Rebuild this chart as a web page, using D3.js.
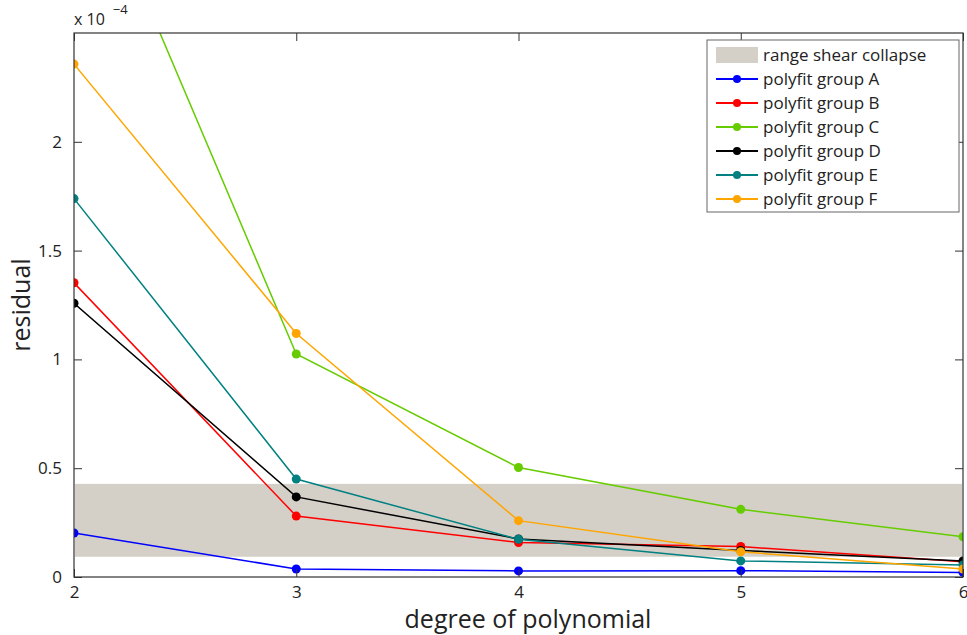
<!DOCTYPE html>
<html>
<head>
<meta charset="utf-8">
<script src="https://cdn.jsdelivr.net/npm/d3@7"></script>
<style>
  html, body { margin: 0; padding: 0; background: #fff; }
  svg { display: block; font-family: "Open Sans", "Noto Sans", sans-serif; }
</style>
</head>
<body>
<svg id="chart" width="967" height="635"></svg>
<script>
// Polynomial degree on x, fit residual (units of 1e-4) on y
const degrees = [2, 3, 4, 5, 6];
const seriesNames = ["polyfit group A", "polyfit group B", "polyfit group C",
                     "polyfit group D", "polyfit group E", "polyfit group F"];
const seriesColors = ["#0000ff", "#ff0000", "#66cc00", "#000000", "#008080", "#ffa500"];
const groupA = [0.202, 0.037, 0.028, 0.029, 0.021];
const groupB = [1.352, 0.280, 0.158, 0.140, 0.070];
const groupC = [3.430, 1.025, 0.503, 0.311, 0.185];
const groupD = [1.258, 0.368, 0.175, 0.122, 0.074];
const groupE = [1.739, 0.450, 0.173, 0.074, 0.055];
const groupF = [2.357, 1.119, 0.259, 0.116, 0.037];
const seriesValues = [groupA, groupB, groupC, groupD, groupE, groupF];
const bandRange = [0.093, 0.428];          // shear collapse range
const bandLabel = "range shear collapse";
const yTicks = [0, 0.5, 1, 1.5, 2];
const yMax = 2.5;

const svg = d3.select("#chart");
const pLeft = 74, pRight = 963, pTop = 33, pBottom = 577;

const x = d3.scaleLinear().domain([2, 6]).range([pLeft, pRight]);
const y = d3.scaleLinear().domain([0, yMax]).range([pBottom, pTop]);

svg.append("defs").append("clipPath").attr("id", "plotclip")
  .append("rect").attr("x", pLeft).attr("y", pTop)
  .attr("width", pRight - pLeft).attr("height", pBottom - pTop);

const plot = svg.append("g").attr("clip-path", "url(#plotclip)");

// shaded band
plot.append("rect")
  .attr("x", x(2) + 1).attr("width", x(6) - x(2) - 2)
  .attr("y", y(bandRange[1])).attr("height", y(bandRange[0]) - y(bandRange[1]))
  .attr("fill", "#d4d0c8");

const line = d3.line().x((d, i) => x(degrees[i])).y(d => y(d));

seriesValues.forEach((vals, k) => {
  const g = plot.append("g");
  g.append("path").datum(vals)
    .attr("d", line).attr("fill", "none")
    .attr("stroke", seriesColors[k]).attr("stroke-width", 1.5);
  g.selectAll("circle").data(vals).join("circle")
    .attr("cx", (d, i) => x(degrees[i])).attr("cy", d => y(d))
    .attr("r", 4.5).attr("fill", seriesColors[k]);
});

// axes (ticks point inward, mirrored on top and right)
const axisColor = "#333";
const tickLen = 8;
const styleAxis = g => {
  g.select(".domain").remove();
  g.selectAll(".tick line").attr("stroke", axisColor);
  g.selectAll(".tick text").attr("fill", "#222").style("font-size", "17px")
    .style("font-family", "'Open Sans', sans-serif");
};
svg.append("g").attr("transform", `translate(0,${pBottom})`)
  .call(d3.axisBottom(x).tickValues(degrees).tickFormat(d3.format("d"))
        .tickSizeInner(-tickLen).tickSizeOuter(0).tickPadding(9))
  .call(styleAxis);
svg.append("g").attr("transform", `translate(${pLeft},0)`)
  .call(d3.axisLeft(y).tickValues(yTicks).tickFormat(d => d === 0 ? "0" : String(d))
        .tickSizeInner(-tickLen).tickSizeOuter(0).tickPadding(12))
  .call(styleAxis);
svg.append("g").attr("transform", `translate(0,${pTop})`)
  .call(d3.axisTop(x).tickValues(degrees).tickFormat("")
        .tickSizeInner(-tickLen).tickSizeOuter(0))
  .call(styleAxis);
svg.append("g").attr("transform", `translate(${pRight},0)`)
  .call(d3.axisRight(y).tickValues(yTicks).tickFormat("")
        .tickSizeInner(-tickLen).tickSizeOuter(0))
  .call(styleAxis);

svg.append("rect").attr("x", pLeft).attr("y", pTop)
  .attr("width", pRight - pLeft).attr("height", pBottom - pTop)
  .attr("fill", "none").attr("stroke", axisColor).attr("stroke-width", 1.2);

// exponent label
const expo = svg.append("text").attr("x", pLeft).attr("y", 25)
  .attr("fill", "#222").style("font-size", "16px");
expo.append("tspan").text("x 10");
expo.append("tspan").attr("dx", 8).attr("dy", -11).style("font-size", "13px").text("\u22124");

// axis titles
svg.append("text").attr("x", 528).attr("y", 628)
  .attr("text-anchor", "middle").attr("fill", "#222")
  .style("font-size", "25px").text("degree of polynomial");
svg.append("text")
  .attr("transform", `translate(30,${(pTop + pBottom) / 2}) rotate(-90)`)
  .attr("text-anchor", "middle").attr("fill", "#222")
  .style("font-size", "25px").text("residual");

// legend
const lg = svg.append("g");
lg.append("rect").attr("x", 707).attr("y", 40).attr("width", 252).attr("height", 172)
  .attr("fill", "#fff").attr("stroke", "#666").attr("stroke-width", 1);
const rowY = i => 55 + i * 24;
lg.append("rect").attr("x", 716).attr("y", rowY(0) - 8).attr("width", 42).attr("height", 16)
  .attr("fill", "#d4d0c8");
lg.append("text").attr("x", 763).attr("y", rowY(0) + 6).attr("fill", "#222")
  .style("font-size", "17px").text(bandLabel);
seriesNames.forEach((name, k) => {
  const yy = rowY(k + 1);
  lg.append("line").attr("x1", 716).attr("x2", 758).attr("y1", yy).attr("y2", yy)
    .attr("stroke", seriesColors[k]).attr("stroke-width", 2);
  lg.append("circle").attr("cx", 737).attr("cy", yy).attr("r", 4).attr("fill", seriesColors[k]);
  lg.append("text").attr("x", 763).attr("y", yy + 6).attr("fill", "#222")
    .style("font-size", "17px").text(name);
});
</script>
</body>
</html>
